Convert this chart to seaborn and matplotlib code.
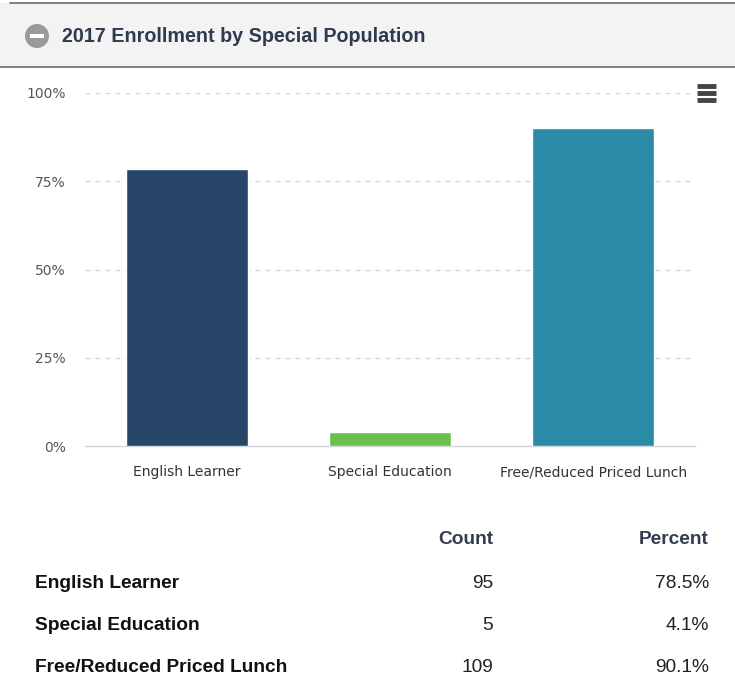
import matplotlib
matplotlib.use("Agg")
import matplotlib.pyplot as plt
import seaborn as sns
import pandas as pd
from matplotlib.patches import Rectangle, Ellipse
from matplotlib.lines import Line2D

# Dados
categorias = ["English Learner", "Special Education", "Free/Reduced Priced Lunch"]
percentuais = [78.5, 4.1, 90.1]
contagens = [95, 5, 109]
cores = ["#27466a", "#6cc04a", "#2b8aa5"]
titulo = "2017 Enrollment by Special Population"

df = pd.DataFrame({"Categoria": categorias, "Percent": percentuais, "Count": contagens})

sns.set_style("white")
plt.rcParams["font.family"] = ["Liberation Sans", "DejaVu Sans"]

W, H = 735, 682
fig = plt.figure(figsize=(W / 100, H / 100), dpi=100)


def fx(px):
    return px / W


def fy(py):
    return 1 - py / H


# Cabeçalho
fig.add_artist(Rectangle((0, fy(67)), 1, fy(3) - fy(67), transform=fig.transFigure,
                         facecolor="#f3f3f3", edgecolor="none", zorder=0))
fig.add_artist(Line2D([fx(10), 1], [fy(3), fy(3)], transform=fig.transFigure, color="#6a6a6a", lw=1.2))
fig.add_artist(Line2D([0, 1], [fy(67), fy(67)], transform=fig.transFigure, color="#6a6a6a", lw=1.2))
fig.add_artist(Ellipse((fx(37), fy(36)), 24 / W, 24 / H, transform=fig.transFigure,
                       facecolor="#9a9a9a", edgecolor="none"))
fig.add_artist(Rectangle((fx(30), fy(38)), 14 / W, 4 / H, transform=fig.transFigure,
                         facecolor="white", edgecolor="none"))
fig.text(fx(62), fy(36), titulo, fontsize=14.2, fontweight="bold", color="#2e3b4e",
         ha="left", va="center")

# Menu
for yy in [86, 93, 100]:
    fig.add_artist(Line2D([fx(697), fx(716)], [fy(yy), fy(yy)], transform=fig.transFigure,
                          color="#444444", lw=3.5, solid_capstyle="butt"))

# Gráfico de barras
ax = fig.add_axes([fx(85), fy(446), fx(695) - fx(85), fy(93) - fy(446)])
sns.barplot(data=df, x="Categoria", y="Percent", hue="Categoria", palette=cores,
            width=0.6, saturation=1, legend=False, ax=ax, zorder=3)
ax.set_ylim(0, 100)
ax.set_xlim(-0.5, 2.5)
ax.set_yticks([0, 25, 50, 75, 100])
ax.set_yticklabels(["0%", "25%", "50%", "75%", "100%"])
ax.grid(axis="y", color="#d4d4d4", linestyle=(0, (4, 4)), lw=0.9, zorder=0)
ax.set_axisbelow(True)
for s in ["top", "right", "left"]:
    ax.spines[s].set_visible(False)
ax.spines["bottom"].set_color("#d0d6e0")
ax.spines["bottom"].set_linewidth(1)
ax.set_xticks([-0.5, 0.5, 1.5, 2.5], minor=True)
ax.tick_params(axis="x", which="minor", length=13, color="#d8d8d8", width=1)
ax.tick_params(axis="x", which="major", length=0, pad=14, labelsize=10, labelcolor="#333333")
ax.tick_params(axis="y", length=0, pad=14, labelsize=10, labelcolor="#555555")
for lbl in ax.get_xticklabels() + ax.get_yticklabels():
    lbl.set_family(["DejaVu Sans"])
ax.set_xlabel("")
ax.set_ylabel("")

# Tabela
x_count = fx(493)
x_pct = fx(709)
fs = 13.8
fig.text(x_count, fy(540), "Count", fontsize=fs, fontweight="bold", color="#333d4d", ha="right", va="center")
fig.text(x_pct, fy(540), "Percent", fontsize=fs, fontweight="bold", color="#333d4d", ha="right", va="center")
for i, (cat, c, p) in enumerate(zip(categorias, contagens, percentuais)):
    yy = fy(583 + i * 42.5)
    fig.text(fx(35), yy, cat, fontsize=fs, fontweight="bold", color="#111111", ha="left", va="center")
    fig.text(x_count, yy, str(c), fontsize=fs, color="#222222", ha="right", va="center")
    fig.text(x_pct, yy, f"{p:.1f}%", fontsize=fs, color="#222222", ha="right", va="center")

fig.savefig("out.png", dpi=100)
